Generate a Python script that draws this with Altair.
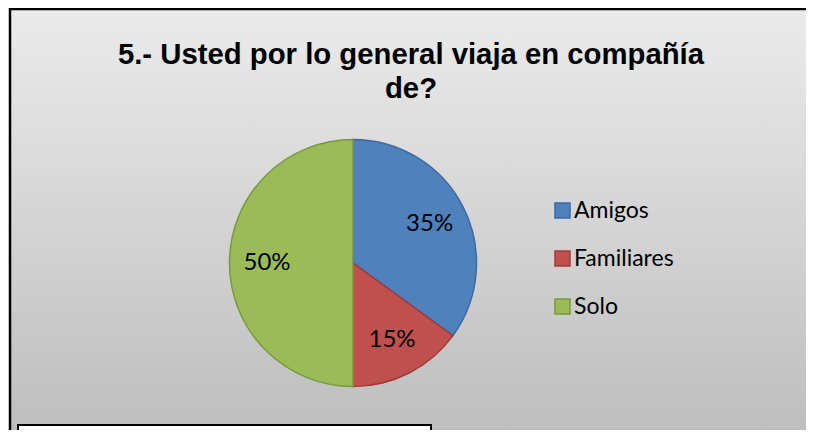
import altair as alt
import pandas as pd

categories = ["Amigos", "Familiares", "Solo"]
values = [35, 15, 50]
labels = ["35%", "15%", "50%"]
fill_colors = ["#4F81BD", "#C0504D", "#9BBB59"]
stroke_colors = ["#3B6A9F", "#9C3C39", "#789A3E"]
title_text = "5.- Usted por lo general viaja en compañía\nde?"

W, H = 798, 422
CX, CY, R = 345, 255, 123.5

df = pd.DataFrame({"cat": categories, "value": values, "label": labels, "order": [0, 1, 2]})
one = pd.DataFrame({"a": [0]})

bg = alt.Chart(one).mark_rect(
    color=alt.LinearGradient(
        gradient="linear",
        stops=[alt.GradientStop(color="#ebebeb", offset=0),
               alt.GradientStop(color="#bebebe", offset=1)],
        x1=0, x2=0, y1=0, y2=1),
).encode(x=alt.value(2), x2=alt.value(W), y=alt.value(1), y2=alt.value(H))

left_border = alt.Chart(one).mark_rule(color="black", strokeWidth=2.5).encode(
    x=alt.value(2), y=alt.value(0), y2=alt.value(H))
top_border = alt.Chart(one).mark_rule(color="black", strokeWidth=2.5).encode(
    x=alt.value(1), x2=alt.value(W), y=alt.value(1))

box = alt.Chart(one).mark_rect(fill="white", stroke="black", strokeWidth=2).encode(
    x=alt.value(10), x2=alt.value(423), y=alt.value(417), y2=alt.value(H + 20))

title = alt.Chart(one).mark_text(
    text=title_text, lineBreak="\n", lineHeight=34, font="Liberation Sans",
    fontWeight="bold", fontSize=29.3, color="black", align="center", baseline="alphabetic",
).encode(x=alt.value(403), y=alt.value(56))

legend = alt.Legend(
    title=None, orient="none", legendX=543, legendY=191, symbolType="square",
    symbolSize=225, symbolStrokeWidth=1.5, labelFont="Lato", labelFontSize=23,
    labelColor="black", labelOffset=0, rowPadding=24, padding=0,
)

pie = alt.Chart(df).mark_arc(radius=R, strokeWidth=1.5).encode(
    theta=alt.Theta("value:Q", stack=True),
    order=alt.Order("order:Q"),
    color=alt.Color("cat:N", scale=alt.Scale(domain=categories, range=fill_colors), legend=legend),
    stroke=alt.Stroke("cat:N", scale=alt.Scale(domain=categories, range=stroke_colors), legend=legend),
    x=alt.value(CX), y=alt.value(CY),
)

text = alt.Chart(df).mark_text(radius=86, font="Lato", fontSize=24, color="black").encode(
    theta=alt.Theta("value:Q", stack=True),
    order=alt.Order("order:Q"),
    text="label:N",
    x=alt.value(CX), y=alt.value(CY),
)

chart = alt.layer(bg, left_border, top_border, box, title, pie, text).properties(
    width=W, height=H, autosize=alt.AutoSizeParams(type="none"), padding=0
).configure_view(stroke=None)

chart.save("out.html", embed_options={"renderer": "svg", "actions": False})
